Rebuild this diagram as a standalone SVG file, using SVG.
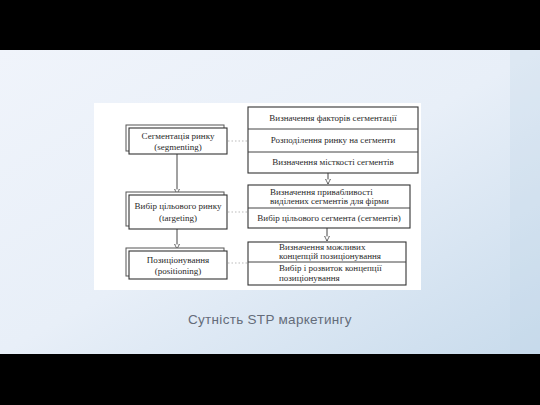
<svg xmlns="http://www.w3.org/2000/svg" width="540" height="405" viewBox="0 0 540 405">
<defs>
<linearGradient id="bg" x1="0" y1="0" x2="1" y2="1">
<stop offset="0" stop-color="#f0f4fb"/>
<stop offset="0.5" stop-color="#e8eff8"/>
<stop offset="1" stop-color="#c8dbec"/>
</linearGradient>
<marker id="ah" viewBox="0 0 8 8" refX="7" refY="4" markerWidth="6" markerHeight="6" orient="auto" markerUnits="userSpaceOnUse">
<path d="M0,0.5 L7,4 L0,7.5 Z" fill="#fff" stroke="#444" stroke-width="1"/>
</marker>
<style>
.box{fill:#fff;stroke:#333;stroke-width:1.1}
.sh{fill:#fff;stroke:#555;stroke-width:1}
.t{font-family:"Liberation Serif","DejaVu Serif",serif;font-size:9px;fill:#2a2a2a}
.tl{font-family:"Liberation Serif","DejaVu Serif",serif;font-size:9px;fill:#2a2a2a;text-anchor:middle}
.tc{font-family:"Liberation Serif","DejaVu Serif",serif;font-size:9px;fill:#2a2a2a;text-anchor:middle}
.ln{stroke:#444;stroke-width:1;fill:none}
.dot{stroke:#bbb;stroke-width:1;stroke-dasharray:1.5 2;fill:none}
</style>
</defs>
<rect x="0" y="0" width="540" height="405" fill="#000"/>
<rect x="0" y="50" width="540" height="304" fill="url(#bg)"/>
<rect x="510" y="50" width="30" height="304" fill="#c2d6e9" opacity="0.3"/>
<rect x="94" y="103" width="327" height="187" fill="#fff"/>

<g id="connectors">
<line class="ln" x1="177" y1="154" x2="177" y2="194" marker-end="url(#ah)"/>
<line class="ln" x1="177" y1="229" x2="177" y2="249" marker-end="url(#ah)"/>
<line class="ln" x1="328" y1="173" x2="328" y2="184" marker-end="url(#ah)"/>
<line class="ln" x1="327" y1="228" x2="327" y2="241" marker-end="url(#ah)"/>
<line class="dot" x1="228" y1="141" x2="248" y2="141"/>
<line class="dot" x1="228" y1="212" x2="248" y2="212"/>
<line class="dot" x1="228" y1="263" x2="248" y2="263"/>
</g>

<g id="segmenting">
<rect class="sh" x="126" y="125" width="98" height="26"/>
<rect class="box" x="129" y="128" width="98" height="26"/>
<text class="tl" x="178" y="139">Сегментація ринку</text>
<text class="tl" x="178" y="150">(segmenting)</text>
</g>

<g id="targeting">
<rect class="sh" x="126" y="192" width="98" height="34"/>
<rect class="box" x="129" y="195" width="98" height="34"/>
<text class="tl" x="178" y="209">Вибір цільового ринку</text>
<text class="tl" x="178" y="221">(targeting)</text>
</g>

<g id="positioning">
<rect class="sh" x="126" y="248" width="98" height="28"/>
<rect class="box" x="129" y="251" width="98" height="28"/>
<text class="tl" x="178" y="263">Позиціонування</text>
<text class="tl" x="178" y="274">(positioning)</text>
</g>

<g id="seg-steps">
<rect class="box" x="248" y="107" width="170" height="66"/>
<line class="ln" x1="248" y1="129" x2="418" y2="129"/>
<line class="ln" x1="248" y1="152" x2="418" y2="152"/>
<text class="tc" x="333" y="121">Визначення факторів сегментації</text>
<text class="tc" x="333" y="143">Розподілення ринку на сегменти</text>
<text class="tc" x="333" y="165">Визначення місткості сегментів</text>
</g>

<g id="target-steps">
<rect class="box" x="248" y="185" width="162" height="43"/>
<line class="ln" x1="248" y1="208" x2="410" y2="208"/>
<text class="t" x="270" y="195">Визначення привабливості</text>
<text class="t" x="270" y="204">виділених сегментів для фірми</text>
<text class="tc" x="329" y="221">Вибір цільового сегмента (сегментів)</text>
</g>

<g id="position-steps">
<rect class="box" x="248" y="242" width="158" height="43"/>
<line class="ln" x1="248" y1="262" x2="406" y2="262"/>
<text class="t" x="279" y="250">Визначення можливих</text>
<text class="t" x="279" y="259">концепцій позиціонування</text>
<text class="t" x="279" y="271">Вибір і розвиток концепції</text>
<text class="t" x="279" y="281">позиціонування</text>
</g>

<text x="188" y="324" font-family="'Liberation Sans','DejaVu Sans',sans-serif" font-size="13.5" letter-spacing="0.3" fill="#646c7a">Сутність STP маркетингу</text>
</svg>
